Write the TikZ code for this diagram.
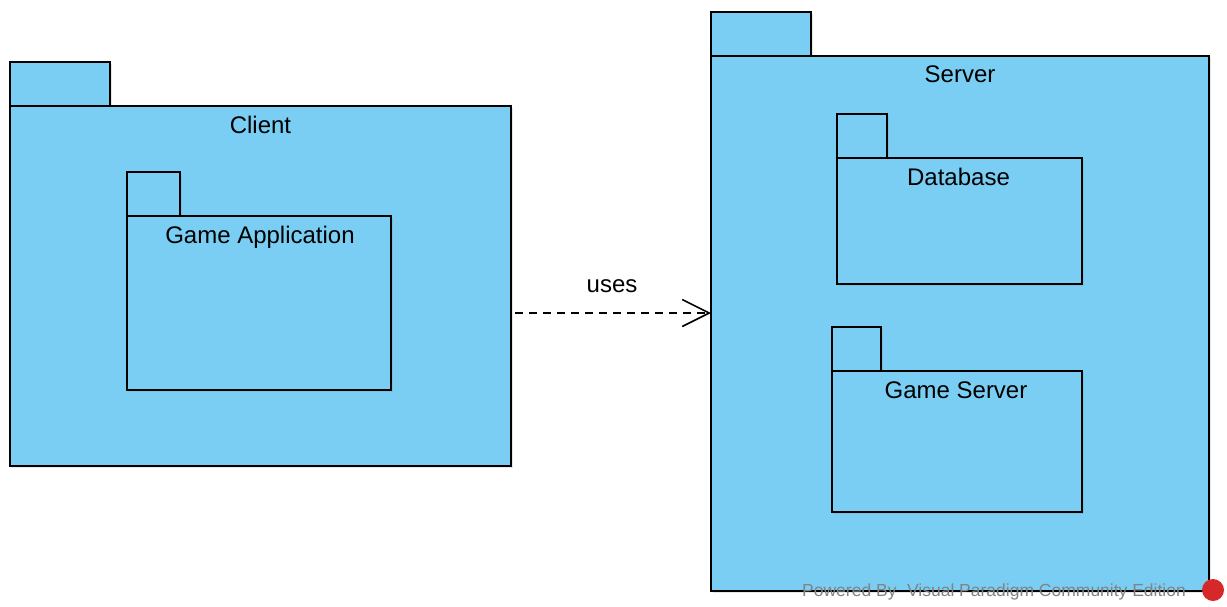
\documentclass[tikz,border=0pt]{standalone}
\usepackage{fontspec}
\setmainfont{Liberation Sans}
\usetikzlibrary{arrows.meta,shadows}
\definecolor{pkgblue}{RGB}{122,206,244}
\definecolor{wmgray}{RGB}{130,130,130}
\definecolor{logored}{RGB}{214,40,40}
\begin{document}
\begin{tikzpicture}[x=1pt,y=-1pt,
  pkg/.style={draw=black,fill=pkgblue,line width=1.6pt,inner sep=0pt,outer sep=0pt,anchor=north west,
     drop shadow={shadow xshift=2pt,shadow yshift=-2pt,opacity=0.2}},
  pkglabel/.style={anchor=base,font=\fontsize{24}{28}\selectfont,inner sep=0pt},
  uses/.style={line width=1.4pt,dash pattern=on 8pt off 6pt,shorten <=4pt,
     -{Straight Barb[length=27pt,width=27pt,line width=1.6pt]}}
]
\useasboundingbox (0,0) rectangle (1227,606);
% Client package
\node[pkg,minimum width=100pt,minimum height=44pt] (clienttab) at (10,62) {};
\node[pkg,minimum width=501pt,minimum height=360pt] (client) at (10,106) {};
\node[pkglabel] (clientlabel) at (260.5,133) {Client};
% Game Application
\node[pkg,minimum width=53pt,minimum height=44pt] (apptab) at (127,172) {};
\node[pkg,minimum width=264pt,minimum height=174pt] (app) at (127,216) {};
\node[pkglabel] (applabel) at (260,243) {Game Application};
% Server package
\node[pkg,minimum width=100pt,minimum height=44pt] (servertab) at (711,12) {};
\node[pkg,minimum width=498pt,minimum height=535pt] (server) at (711,56) {};
\node[pkglabel] (serverlabel) at (960,82) {Server};
% Database
\node[pkg,minimum width=50pt,minimum height=44pt] (dbtab) at (837,114) {};
\node[pkg,minimum width=245pt,minimum height=126pt] (db) at (837,158) {};
\node[pkglabel] (dblabel) at (958.5,185) {Database};
% Game Server
\node[pkg,minimum width=49pt,minimum height=44pt] (gstab) at (832,327) {};
\node[pkg,minimum width=250pt,minimum height=141pt] (gs) at (832,371) {};
\node[pkglabel] (gslabel) at (956,398) {Game Server};
% dependency
\coordinate (arrowy) at (0,313);
\draw[uses] (client.east |- arrowy) -- (server.west |- arrowy);
\node[pkglabel] (useslabel) at (612,292) {uses};
% watermark
\node[anchor=base west,inner sep=0pt,text=wmgray,font=\fontsize{17.5}{20}\selectfont] (wm) at (802,596) {Powered By\hspace{0.6em}Visual Paradigm Community Edition};
\fill[logored] (1213,590) circle (11);
\end{tikzpicture}
\end{document}
